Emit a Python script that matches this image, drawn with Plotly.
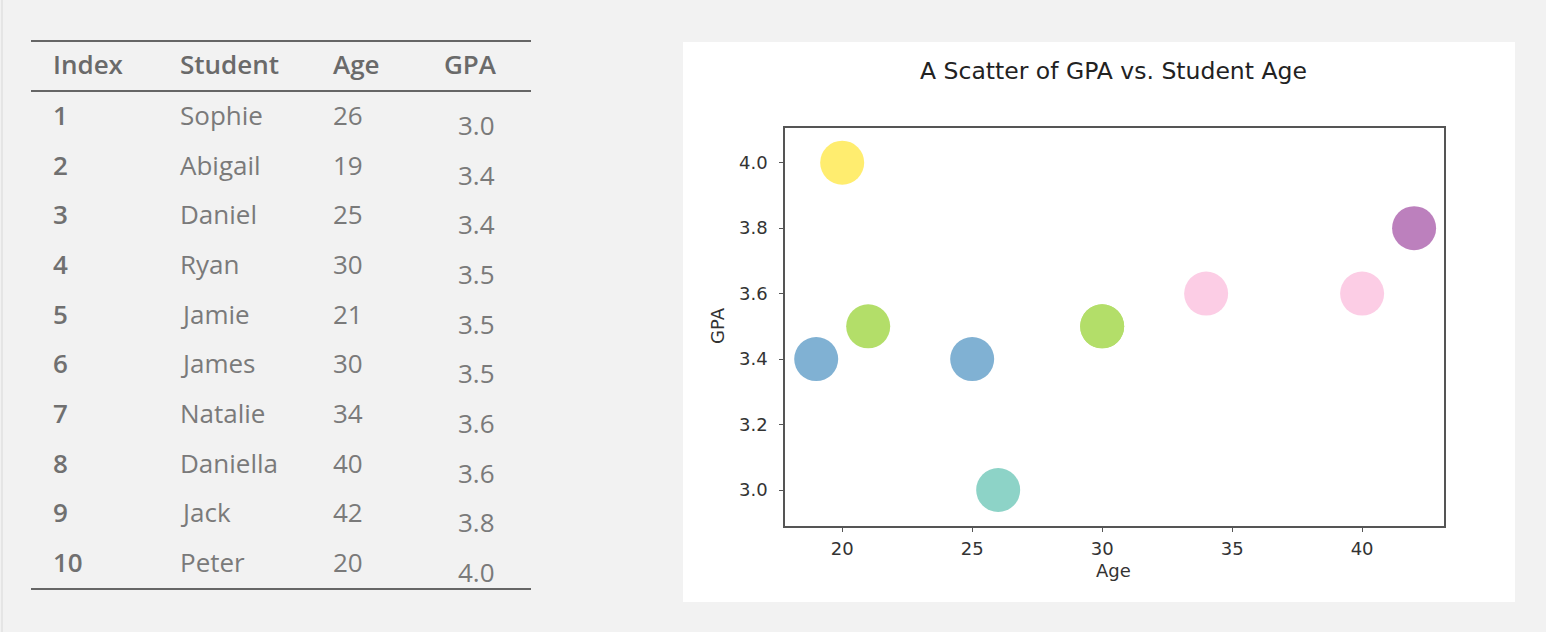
import plotly.graph_objects as go

# ---------------- data ----------------
index_labels = ["1", "2", "3", "4", "5", "6", "7", "8", "9", "10"]
students = ["Sophie", "Abigail", "Daniel", "Ryan", "Jamie", "James",
            "Natalie", "Daniella", "Jack", "Peter"]
ages = [26, 19, 25, 30, 21, 30, 34, 40, 42, 20]
gpa = [3.0, 3.4, 3.4, 3.5, 3.5, 3.5, 3.6, 3.6, 3.8, 4.0]
headers = ["Index", "Student", "Age", "GPA"]
x_ticks = [20, 25, 30, 35, 40]
y_ticks = [3.0, 3.2, 3.4, 3.6, 3.8, 4.0]

# ---------------- style ----------------
W, H = 1546, 632
BG = "#f2f2f2"
SET3 = ["#8dd3c7", "#ffffb3", "#bebada", "#fb8072", "#80b1d3", "#fdb462",
        "#b3de69", "#fccde5", "#d9d9d9", "#bc80bd", "#ccebc5", "#ffed6f"]
gmin, gmax = min(gpa), max(gpa)


def set3_color(v):
    n = (v - gmin) / (gmax - gmin)
    i = min(int(n * len(SET3)), len(SET3) - 1)
    return SET3[i]


colors = [set3_color(v) for v in gpa]


def px(x):
    return x / W


def py(y):
    return 1 - y / H


fig = go.Figure()
fig.add_trace(go.Scatter(
    x=ages, y=gpa, mode="markers",
    marker=dict(size=44, color=colors, line=dict(width=0)),
    showlegend=False, hoverinfo="x+y",
))

shapes = []
annotations = []

# white chart panel
shapes.append(dict(type="rect", xref="paper", yref="paper",
                   x0=px(683), x1=px(1515), y0=py(602), y1=py(42),
                   fillcolor="white", line=dict(width=0), layer="below"))
# faint left edge of the picture
shapes.append(dict(type="line", xref="paper", yref="paper",
                   x0=px(2), x1=px(2), y0=py(632), y1=py(0),
                   line=dict(color="#d8d8d8", width=1)))

# table rules
for yy in (41, 91, 589):
    shapes.append(dict(type="line", xref="paper", yref="paper",
                       x0=px(31), x1=px(531), y0=py(yy), y1=py(yy),
                       line=dict(color="#666666", width=2)))

TFONT = "Open Sans"
TSIZE = 26
PAD = 2
col_x = [53, 180, 333, 444]
for h, cx in zip(headers, col_x):
    annotations.append(dict(text=h, x=px(cx - PAD), y=py(64), xref="paper", yref="paper",
                            xanchor="left", yanchor="middle", showarrow=False,
                            font=dict(family=TFONT, size=TSIZE, color="#6a6a6a", weight=600)))

row0, rstep = 115, 49.67
for i in range(len(students)):
    yy = row0 + i * rstep
    annotations.append(dict(text=index_labels[i], x=px(53 - PAD), y=py(yy), xref="paper", yref="paper",
                            xanchor="left", yanchor="middle", showarrow=False,
                            font=dict(family=TFONT, size=TSIZE, color="#707070", weight=600)))
    annotations.append(dict(text=students[i], x=px(180 - PAD), y=py(yy), xref="paper", yref="paper",
                            xanchor="left", yanchor="middle", showarrow=False,
                            font=dict(family=TFONT, size=TSIZE, color="#7a7a7a")))
    annotations.append(dict(text=str(ages[i]), x=px(333 - PAD), y=py(yy), xref="paper", yref="paper",
                            xanchor="left", yanchor="middle", showarrow=False,
                            font=dict(family=TFONT, size=TSIZE, color="#7a7a7a")))
    annotations.append(dict(text=f"{gpa[i]:.1f}", x=px(458 - PAD), y=py(yy + 10), xref="paper", yref="paper",
                            xanchor="left", yanchor="middle", showarrow=False,
                            font=dict(family=TFONT, size=TSIZE, color="#7a7a7a")))

CFONT = "DejaVu Sans"
annotations.append(dict(text="A Scatter of GPA vs. Student Age", x=px(1113), y=py(71),
                        xref="paper", yref="paper", xanchor="center", yanchor="middle",
                        showarrow=False, font=dict(family=CFONT, size=23.5, color="#222222")))
annotations.append(dict(text="Age", x=px(1113), y=py(570), xref="paper", yref="paper",
                        xanchor="center", yanchor="middle", showarrow=False,
                        font=dict(family=CFONT, size=18, color="#333333")))
annotations.append(dict(text="GPA", x=px(717), y=py(326), xref="paper", yref="paper",
                        xanchor="center", yanchor="middle", showarrow=False, textangle=-90,
                        font=dict(family=CFONT, size=18, color="#333333")))

axis_common = dict(showline=True, mirror=True, linecolor="#555555", linewidth=1.5,
                   ticks="outside", ticklen=4, tickwidth=1.2, tickcolor="#555555",
                   showgrid=False, zeroline=False,
                   tickfont=dict(family=CFONT, size=18, color="#333333"))

fig.update_layout(
    width=W, height=H, autosize=False,
    margin=dict(l=0, r=0, t=0, b=0),
    paper_bgcolor=BG, plot_bgcolor="white",
    xaxis=dict(domain=[px(785), px(1444)], range=[17.8, 43.15],
               tickvals=x_ticks, ticktext=[str(v) for v in x_ticks],
               ticklabelstandoff=2, **axis_common),
    yaxis=dict(domain=[py(526), py(128)], range=[2.89, 4.106],
               tickvals=y_ticks, ticktext=[f"{v:.1f}" for v in y_ticks],
               ticklabelstandoff=8, **axis_common),
    shapes=shapes, annotations=annotations,
)

fig.write_html(
    "out.html",
    config={"displayModeBar": False},
    post_script="document.body.style.margin='0';document.body.style.background='%s';" % BG,
)
